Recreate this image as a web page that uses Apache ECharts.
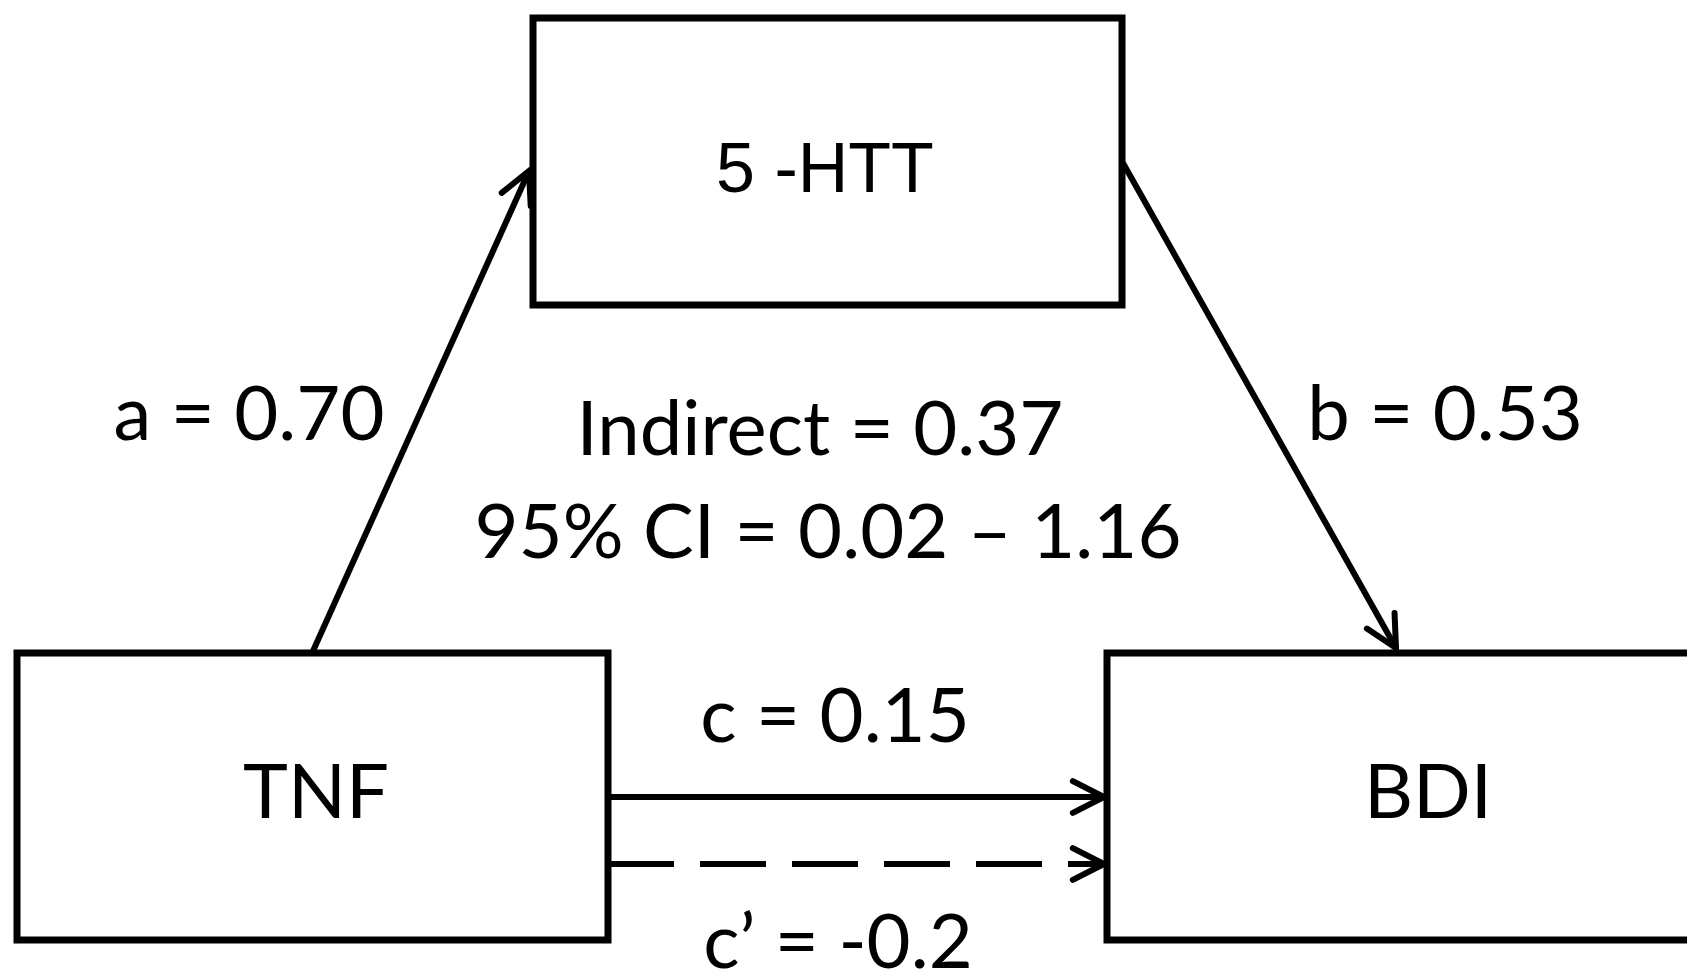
<!DOCTYPE html>
<html>
<head>
    <meta charset="utf-8">
    <title>Mediation model</title>
    <script src="https://cdn.jsdelivr.net/npm/echarts/dist/echarts.min.js"></script>
    <style>
        html, body { margin: 0; padding: 0; background: #fff; }
        #chart1 { width: 1687px; height: 976px; }
    </style>
</head>
<body>
<div id="chart1"></div>
<script type="text/javascript">
    // values
    var nodeNames = ['5 -HTT', 'TNF', 'BDI'];
    var pathNames = ['a', 'b', 'c', 'c\u2019'];
    var pathValues = ['0.70', '0.53', '0.15', '-0.2'];
    var indirectValue = ['0.37'];
    var ciBounds = ['0.02', '1.16'];

    // layout (pixel units of the hidden axes)
    var nodeBoxes = [
        [533, 18, 1122, 305],
        [17, 653, 608, 940],
        [1107, 653, 1695, 940]
    ];
    var nodeLabelPos = [[825, 173], [316, 793], [1428, 793]];
    var pathLines = [
        [313, 651, 529, 171, 0],
        [1123, 163, 1396, 648, 0],
        [608, 797, 1104, 797, 0],
        [608, 864, 1104, 864, 1]
    ];
    var pathLabelPos = [[249, 415], [1445, 415], [835, 717], [838, 943]];
    var indirectPos = [[820, 430], [828, 533]];

    var labelFont = 'Lato';
    var ink = '#000';

    var nodeData = nodeBoxes.map(function (b, i) {
        return b.concat(nodeLabelPos[i]).concat([i]);
    });

    var textData = [];
    pathNames.forEach(function (n, i) {
        textData.push({value: pathLabelPos[i], text: n + ' = ' + pathValues[i]});
    });
    textData.push({value: indirectPos[0], text: 'Indirect = ' + indirectValue[0]});
    textData.push({value: indirectPos[1], text: '95% CI = ' + ciBounds[0] + ' \u2013 ' + ciBounds[1]});

    function renderNode(params, api) {
        var p0 = api.coord([api.value(0), api.value(1)]);
        var p1 = api.coord([api.value(2), api.value(3)]);
        var t = api.coord([api.value(4), api.value(5)]);
        var idx = api.value(6);
        return {
            type: 'group',
            children: [{
                type: 'rect',
                shape: {x: p0[0], y: p0[1], width: p1[0] - p0[0], height: p1[1] - p0[1]},
                style: {fill: '#fff', stroke: ink, lineWidth: 7}
            }, {
                type: 'text',
                style: {
                    text: nodeNames[idx], x: t[0], y: t[1],
                    align: 'center', verticalAlign: 'middle',
                    fontSize: idx === 0 ? 70 : 76,
                    fontFamily: idx === 0 ? 'Liberation Sans' : labelFont,
                    fill: ink
                }
            }]
        };
    }

    function renderArrow(params, api) {
        var p0 = api.coord([api.value(0), api.value(1)]);
        var p1 = api.coord([api.value(2), api.value(3)]);
        var dashed = api.value(4);
        var dx = p1[0] - p0[0], dy = p1[1] - p0[1];
        var len = Math.sqrt(dx * dx + dy * dy);
        var bx = -dx / len, by = -dy / len;
        var arm = 35, ang = 27 * Math.PI / 180;
        function rot(a) {
            return [p1[0] + arm * (bx * Math.cos(a) - by * Math.sin(a)),
                p1[1] + arm * (bx * Math.sin(a) + by * Math.cos(a))];
        }
        return {
            type: 'group',
            children: [{
                type: 'line',
                shape: {x1: p0[0], y1: p0[1], x2: p1[0], y2: p1[1]},
                style: {stroke: ink, lineWidth: 6, lineDash: dashed ? [66, 26] : null}
            }, {
                type: 'polyline',
                shape: {points: [rot(ang), p1, rot(-ang)]},
                style: {stroke: ink, lineWidth: 6, fill: null, lineJoin: 'miter', lineCap: 'round'}
            }]
        };
    }

    function renderText(params, api) {
        var p = api.coord([api.value(0), api.value(1)]);
        return {
            type: 'text',
            style: {
                text: textData[params.dataIndex].text, x: p[0], y: p[1],
                align: 'center', verticalAlign: 'middle',
                fontSize: 76, fontFamily: labelFont, fill: ink
            }
        };
    }

    var myChart1 = echarts.init(document.getElementById('chart1'));
    myChart1.setOption({
        backgroundColor: '#fff',
        animation: false,
        grid: {left: 0, right: 0, top: 0, bottom: 0},
        xAxis: {type: 'value', min: 0, max: 1687, show: false},
        yAxis: {type: 'value', min: 0, max: 976, inverse: true, show: false},
        series: [{
            type: 'custom',
            name: 'paths',
            clip: false,
            renderItem: renderArrow,
            data: pathLines
        }, {
            type: 'custom',
            name: 'nodes',
            clip: false,
            renderItem: renderNode,
            data: nodeData
        }, {
            type: 'custom',
            name: 'labels',
            clip: false,
            renderItem: renderText,
            data: textData
        }]
    });
</script>
</body>
</html>
